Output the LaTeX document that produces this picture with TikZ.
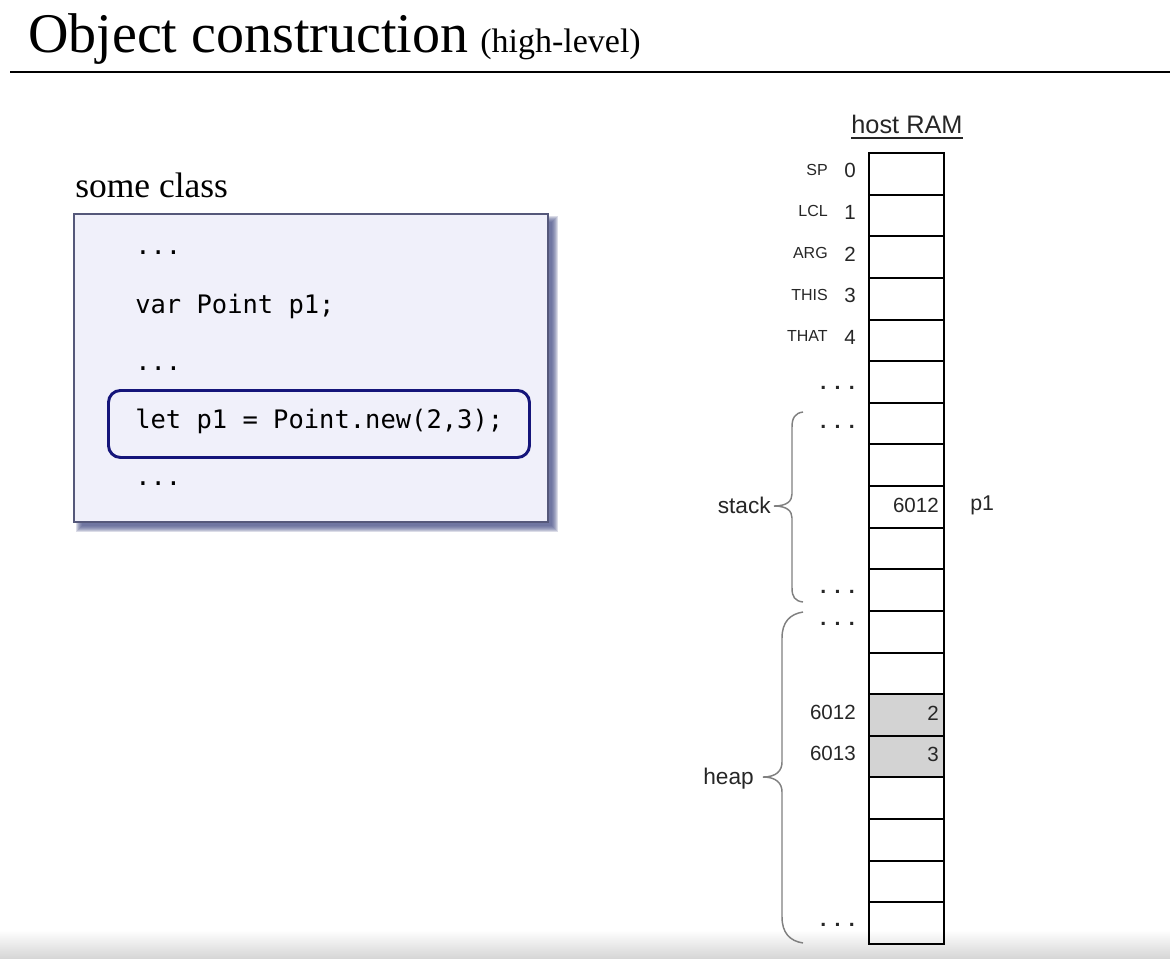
\documentclass[tikz,border=0pt]{standalone}
\usepackage{fontspec}
\setmainfont{Liberation Serif}
\setsansfont{Liberation Sans}
\setmonofont{DejaVu Sans Mono}

\definecolor{boxfill}{HTML}{F0F0FA}
\definecolor{boxline}{HTML}{55587A}
\definecolor{boxshadow}{HTML}{4A5288}
\definecolor{hiline}{HTML}{15157A}
\definecolor{ramtext}{HTML}{262626}
\definecolor{bracecol}{HTML}{808080}
\definecolor{usedcell}{HTML}{D3D3D3}

\newcommand{\fs}[1]{\fontsize{#1}{#1}\selectfont}
\newcommand{\ramdots}{.\kern6.2pt.\kern6.2pt.}

\tikzset{
  ramcell/.style={draw=black, line width=1.5pt, inner sep=0pt,
    minimum width=56.25pt, minimum height=31.22pt},
  usedram/.style={ramcell, fill=usedcell},
  addr/.style={inner sep=0pt, anchor=east, text=ramtext, font=\sffamily\fs{15.4}},
  regname/.style={inner sep=0pt, anchor=east, text=ramtext, font=\sffamily\fs{12}},
  ramdot/.style={inner sep=0pt, anchor=base east, text=ramtext, font=\sffamily\bfseries\fs{16}},
  cellval/.style={inner sep=0pt, anchor=east, text=ramtext, font=\sffamily\fs{15.4}},
  segname/.style={inner sep=0pt, anchor=base east, text=ramtext, font=\sffamily\fs{17}},
  codeline/.style={inner sep=0pt, anchor=base west, text=black, font=\ttfamily\fs{19.1}},
  bracepath/.style={draw=bracecol, line width=1.1pt},
}

\begin{document}
\begin{tikzpicture}[x=0.75pt,y=-0.75pt]
\useasboundingbox (0,0) rectangle (1170,958);

% faint grey band along the lower edge
\shade[top color=white, bottom color=black!16] (0,930) rectangle (1170,958);

% heading and rule
\node[inner sep=0pt, anchor=base west, font=\fs{42}] (title) at (28,52) {Object construction};
\node[inner sep=0pt, anchor=base west, font=\fs{25.5}] (subtitle) at (480,52) {(high-level)};
\coordinate (ruleL) at (10,72);
\coordinate (ruleR) at (1170,72);
\draw[line width=2.2pt] (ruleL) -- (ruleR);

% class source box with a soft shadow
\node[inner sep=0pt, anchor=base west, font=\fs{26.6}] (clsname) at (75,197) {some class};
\foreach \k in {0,...,6}
  \fill[boxshadow, opacity=0.2] (76+\k,216+\k) rectangle (558-\k,532-\k);
\node[draw=boxline, line width=1.3pt, fill=boxfill, anchor=north west,
      minimum width=355.5pt, minimum height=231pt, inner sep=0pt] (cls) at (73,213) {};
\node[draw=hiline, line width=2.2pt, rounded corners=9pt, anchor=north west,
      minimum width=315.75pt, minimum height=50.25pt, inner sep=0pt] (hl) at (107,389) {};
\node[codeline] (l1) at (135,254) {...};
\node[codeline] (l2) at (135,313) {var Point p1;};
\node[codeline] (l3) at (135,370) {...};
\node[codeline] (l4) at (135,428) {let p1 = Point.new(2,3);};
\node[codeline] (l5) at (135,485) {...};

% host RAM column
\node[inner sep=0pt, anchor=base, text=ramtext, font=\sffamily\fs{19}] (ram) at (907,133) {host RAM};
\draw[ramtext, line width=1.4pt] ([yshift=-3.8pt]ram.base west) -- ([yshift=-3.8pt]ram.base east);

\foreach \i in {0,...,18} {
  \pgfmathsetmacro{\yc}{153+41.63*(\i+0.5)}
  \node[ramcell] (c\i) at (906.5,\yc) {};
}
\node[usedram] (c13) at (906.5,{153+41.63*13.5}) {};
\node[usedram] (c14) at (906.5,{153+41.63*14.5}) {};

% addresses and register names
\foreach \i/\r in {0/SP,1/LCL,2/ARG,3/THIS,4/THAT} {
  \pgfmathsetmacro{\yc}{153+41.63*(\i+0.5)}
  \node[addr] (a\i) at (856,\yc-3) {\i};
  \node[regname] (reg\i) at (828,\yc-4) {\r};
}
\node[addr] (a13) at (856,712) {6012};
\node[addr] (a14) at (856,753) {6013};

% elided ranges
\node[ramdot] (d5) at (855,389) {\ramdots};
\node[ramdot] (d6) at (855,428) {\ramdots};
\node[ramdot] (d10) at (855,593) {\ramdots};
\node[ramdot] (d11) at (855,625) {\ramdots};
\node[ramdot] (d18) at (855,926) {\ramdots};

% cell contents
\node[cellval] (v8) at (939,505) {6012};
\node[cellval] (v13) at (939,713) {2};
\node[cellval] (v14) at (939,754) {3};
\node[inner sep=0pt, anchor=west, text=ramtext, font=\sffamily\fs{16}] (p1) at (970,505) {p1};

% stack brace
\coordinate (sTop) at (803,412);
\coordinate (sTip) at (774,506);
\coordinate (sBot) at (803,602);
\draw[bracepath] (sTop) .. controls (795,413) and (792,418) .. (792,427)
  -- (792,494) .. controls (792,501) and (787,506) .. (sTip)
  .. controls (787,506) and (792,511) .. (792,518)
  -- (792,588) .. controls (792,597) and (795,601) .. (sBot);
\node[segname] (stack) at (771,513) {stack};

% heap brace
\coordinate (hTop) at (803,612);
\coordinate (hTip) at (763,777);
\coordinate (hBot) at (803,943);
\draw[bracepath] (hTop) .. controls (790,614) and (782,622) .. (782,638)
  -- (782,762) .. controls (782,771) and (776,777) .. (hTip)
  .. controls (776,777) and (782,783) .. (782,792)
  -- (782,917) .. controls (782,933) and (790,941) .. (hBot);
\node[segname] (heap) at (754,784) {heap};

\end{tikzpicture}
\end{document}
